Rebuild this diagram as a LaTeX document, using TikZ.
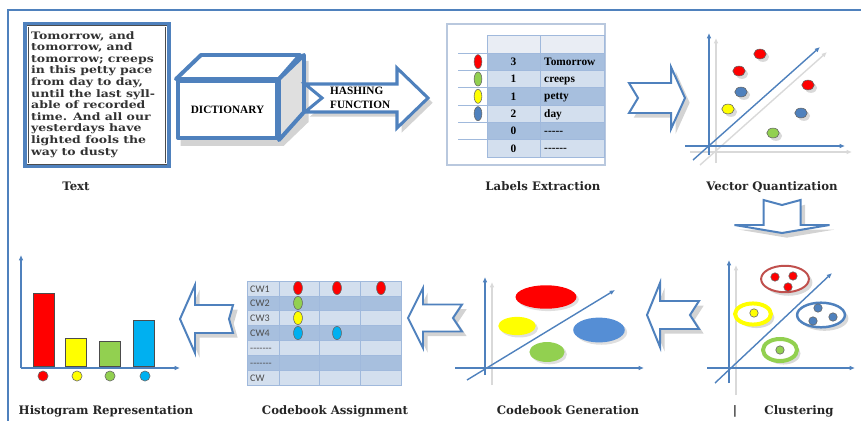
\documentclass[tikz,border=0pt]{standalone}
\usepackage{fontspec}
\setmainfont{Liberation Serif}
\newfontfamily\quotefont[FakeStretch=1.21]{DejaVu Serif}
\newfontfamily\labfont{DejaVu Serif}
\newfontfamily\cwfont{Carlito}
\usepackage{tikz}
\usetikzlibrary{arrows.meta,positioning,shadows}
\definecolor{vqblue}{RGB}{79,129,189}
\definecolor{vqred}{RGB}{255,0,0}
\definecolor{vqyellow}{RGB}{255,255,0}
\definecolor{vqgreen}{RGB}{146,208,80}
\definecolor{vqcyan}{RGB}{0,176,240}
\definecolor{vqsteel}{RGB}{85,142,213}
\definecolor{vqring}{RGB}{192,80,77}
\definecolor{tabdark}{RGB}{167,191,222}
\definecolor{tablight}{RGB}{211,223,238}
\definecolor{tabhead}{RGB}{233,237,244}
\definecolor{tabline}{RGB}{160,185,220}
\definecolor{tabframe}{RGB}{185,200,222}
\tikzset{
  framebar/.style={draw=vqblue, line width=1.7pt},
  txtbox/.style={draw=vqblue, line width=3.4pt, fill=white},
  txtinner/.style={draw=gray!60!black, double=white, double distance=0.9pt, line width=0.45pt},
  quotetext/.style={font=\quotefont\bfseries\fontsize{8.8}{9.9}\selectfont, align=left, inner sep=0pt, text=black!80},
  steplabel/.style={font=\labfont\bfseries\fontsize{10}{12}\selectfont, inner sep=0pt, text=black!85, anchor=base},
  cubeface/.style={draw=vqblue, line width=3.4pt, line join=round},
  cubetext/.style={font=\bfseries\fontsize{9.6}{10}\selectfont, inner sep=0pt},
  hasharrow/.style={draw=vqblue, line width=2.6pt, fill=white, line join=miter,
    drop shadow={shadow xshift=4pt, shadow yshift=-4pt, opacity=.35}},
  hollowarr/.style={draw=vqblue, line width=1.7pt, fill=white, line join=miter,
    drop shadow={shadow xshift=4pt, shadow yshift=-4pt, opacity=.35}},
  tabouter/.style={draw=tabframe, line width=1.3pt},
  tabcell/.style={draw=tabline, line width=0.6pt},
  tabrule/.style={draw=tabline, line width=0.8pt},
  tabtext/.style={font=\bfseries\fontsize{9.7}{10}\selectfont, inner sep=0pt},
  cwtext/.style={font=\cwfont\fontsize{8.6}{10}\selectfont, text=black!70, inner sep=0pt},
  vqaxis/.style={draw=vqblue, line width=1.2pt, -{Latex[length=4.5pt,width=4pt]}},
  vqaxisshade/.style={draw=gray!30, line width=1.2pt, -{Latex[length=4.5pt,width=4pt]}},
  vqdot/.style={draw=black!60, line width=0.5pt,
    drop shadow={shadow xshift=2.5pt, shadow yshift=-2.5pt, opacity=.3}},
  ring/.style={fill=white, drop shadow={shadow xshift=3pt, shadow yshift=-3pt, opacity=.3}},
  blob/.style={drop shadow={shadow xshift=2pt, shadow yshift=-2pt, opacity=.25}},
  histbar/.style={draw=black!70, line width=0.6pt}
}
% tip, angle, length, head length, head half width, shaft half width, notch
\newcommand{\notcharrow}[7]{%
  \draw[hollowarr, shift={(#1)}, rotate=#2]
    (0,0) -- (-#4,-#5) -- (-#4,-#6) -- (-#3,-#6) -- (-#3+#7,0)
    -- (-#3,#6) -- (-#4,#6) -- (-#4,#5) -- cycle;}
\newcommand{\dashrun}[1]{\foreach \k in {1,...,#1}{-}}

\begin{document}
\begin{tikzpicture}[x=0.03cm, y=-0.03cm]
  \useasboundingbox (0,0) rectangle (861,421);
  \draw[framebar] (861,10) -- (8,10) -- (8,421);

  % text
  \node[txtbox, minimum width=4.32cm, minimum height=4.26cm] (txt) at (97,95) {};
  \node[txtinner, minimum width=4.16cm, minimum height=4.13cm] (txtin) at (txt.center) {};
  \node[quotetext, anchor=north west] (quote) at (31,31)
    {Tomorrow, and\\tomorrow, and\\tomorrow; creeps\\in this petty pace\\from day to day,\\until the last syll-\\able of recorded\\time. And all our\\yesterdays have\\lighted fools the\\way to dusty};
  \node[steplabel] (lbltext) at (76,190) {Text};

  % dictionary cube
  \path[drop shadow={shadow xshift=4pt, shadow yshift=-5pt, opacity=.35}]
    (176,140) -- (176,79) -- (201,55) -- (304,55) -- (304,116) -- (279,140) -- cycle;
  \node[cubeface, fill=white, minimum width=2.97cm, minimum height=1.71cm, cubetext] (dict) at (227.5,109.5) {DICTIONARY};
  \draw[cubeface, fill=white] (dict.north west) -- ++(25,-24) -- ++(99,0) -- (dict.north east) -- cycle;
  \draw[cubeface, fill=gray!25] (dict.north east) -- ++(25,-24) -- ++(0,57) -- (dict.south east) -- cycle;

  % hashing
  \draw[hasharrow] (428,98) -- (397,68) -- (397,84) -- (305,84) -- (322,98)
    -- (305,112) -- (397,112) -- (397,128) -- cycle;
  \node[cubetext, anchor=west, align=left, font=\bfseries\fontsize{9.6}{11.9}\selectfont] (hash) at (330,98) {HASHING\\FUNCTION};

  % labels extraction
  \draw[tabouter] (447,24) rectangle (605,165);
  \draw[tabcell, fill=tabhead] (487,35) rectangle (540,53);
  \draw[tabcell, fill=tabhead] (540,35) rectangle (604,53);
  \foreach \r/\n/\w/\c in {1/3/Tomorrow/tabdark, 2/1/creeps/tablight, 3/1/petty/tabdark,
                          4/2/day/tablight, 5/0/\dashrun{5}/tabdark, 6/0/\dashrun{6}/tablight} {
    \pgfmathsetmacro\yt{53+(\r-1)*17.33}
    \draw[tabcell, fill=\c] (487,\yt) rectangle (540,{\yt+17.33});
    \draw[tabcell, fill=\c] (540,\yt) rectangle (604,{\yt+17.33});
    \draw[tabrule] (458,\yt) -- (487,\yt);
    \node[tabtext] at (513.5,{\yt+8.7}) {\n};
    \node[tabtext, anchor=base west] at (544,{\yt+12.3}) {\w};
  }
  \foreach \r/\c in {1/vqred, 2/vqgreen, 3/vqyellow, 4/vqblue}
    \draw[draw=black!60, line width=0.5pt, fill=\c] (478,{53+(\r-0.5)*17.33}) ellipse[x radius=3.3pt, y radius=6pt];
  \node[steplabel] (lbllab) at (543,190) {Labels Extraction};

  \notcharrow{685,98}{0}{56}{14}{31}{15}{9}

  % vector quantization
  \draw[vqaxisshade] (716,163) -- (716,38);
  \draw[vqaxisshade] (690,152) -- (852,152);
  \draw[vqaxisshade] (700,165) -- (827,52);
  \draw[vqaxis] (709,155) -- (709,33);
  \draw[vqaxis] (685,146) -- (845,146);
  \draw[vqaxis] (693,160) -- (820,47);
  \foreach \x/\y/\c in {760/54/vqred, 739/71/vqred, 808/85/vqred, 741/92/vqblue,
                        728/109/vqyellow, 801/113/vqblue, 773/133/vqgreen}
    \draw[vqdot, fill=\c] (\x,\y) ellipse[x radius=5.3pt, y radius=4.2pt];
  \node[steplabel] (lblvq) at (772,190) {Vector Quantization};

  \notcharrow{782,233}{-90}{33}{8}{47.5}{18.5}{5}

  % clustering
  \draw[vqaxisshade] (736,395) -- (736,265);
  \draw[vqaxis] (729,383) -- (729,260);
  \draw[vqaxis] (707,368) -- (855,368);
  \draw[vqaxis] (715,383) -- (832,273);
  \draw[ring, draw=vqring, line width=1.7pt] (785,279) ellipse[x radius=20.4pt, y radius=11.3pt];
  \draw[ring, draw=vqyellow, line width=3.4pt] (753,314) ellipse[x radius=15.3pt, y radius=9pt];
  \draw[ring, draw=vqblue, line width=2.1pt] (821,315) ellipse[x radius=20.4pt, y radius=10.5pt];
  \draw[ring, draw=vqgreen, line width=3.4pt] (780,350) ellipse[x radius=14.5pt, y radius=9.4pt];
  \foreach \x/\y/\c in {775/277/vqred, 793/276/vqred, 788/287/vqred, 754/313/vqyellow,
                        818/308/vqblue, 813/321/vqblue, 833/317/vqblue, 780/350/vqgreen}
    \draw[draw=black!60, line width=0.5pt, fill=\c] (\x,\y) circle[radius=3.6pt];
  \node[steplabel] (lblbar) at (735,414) {|};
  \node[steplabel] (lblclu) at (799,414) {Clustering};

  \notcharrow{647,315}{180}{52}{13}{32}{14}{9}

  % codebook generation
  \draw[vqaxisshade] (492,385) -- (492,282);
  \draw[vqaxis] (485,375) -- (485,277);
  \draw[vqaxis] (455,368) -- (644,368);
  \draw[vqaxis] (467,380) -- (615,290);
  \fill[blob, vqred] (546,297) ellipse[x radius=26pt, y radius=10pt];
  \fill[blob, vqyellow] (517,326) ellipse[x radius=16pt, y radius=7.8pt];
  \fill[blob, vqsteel] (599,330) ellipse[x radius=22pt, y radius=10.6pt];
  \fill[blob, vqgreen] (547,352) ellipse[x radius=15pt, y radius=8.5pt];
  \node[steplabel] (lblgen) at (568,414) {Codebook Generation};

  \notcharrow{408,318}{180}{54}{15}{30}{13.5}{9}

  % codebook assignment
  \foreach \r/\t/\c in {1/CW1/tablight, 2/CW2/tabdark, 3/CW3/tablight, 4/CW4/tabdark,
                        5/\dashrun{7}/tablight, 6/\dashrun{7}/tabdark, 7/CW/tablight} {
    \pgfmathsetmacro\yt{281+(\r-1)*14.857}
    \foreach \xa/\xb in {247/279, 279/319, 319/360, 360/401}
      \draw[tabcell, fill=\c] (\xa,\yt) rectangle (\xb,{\yt+14.857});
    \node[cwtext, anchor=base west] at (250,{\yt+11}) {\t};
  }
  \foreach \x/\y/\c in {298/288/vqred, 337/288/vqred, 381/288/vqred, 298/303/vqgreen,
                        298/318/vqyellow, 298/333/vqcyan, 337/333/vqcyan}
    \draw[draw=black!60, line width=0.5pt, fill=\c] (\x,\y) ellipse[x radius=3.8pt, y radius=5.6pt];
  \node[steplabel] (lblasg) at (335,414) {Codebook Assignment};

  \notcharrow{180,319}{180}{53}{15}{34}{14}{4}

  % histogram
  \draw[vqaxis] (21,368) -- (21,255);
  \draw[vqaxis] (21,368) -- (180,368);
  \foreach \xa/\top/\c in {33/293/vqred, 65/338/vqyellow, 99/341/vqgreen, 133/320/vqcyan}
    \draw[histbar, fill=\c] (\xa,366) rectangle ({\xa+21},\top);
  \foreach \x/\c in {43/vqred, 77/vqyellow, 110/vqgreen, 145/vqcyan}
    \draw[draw=black!60, line width=0.5pt, fill=\c] (\x,376) circle[radius=4.3pt];
  \node[steplabel] (lblhist) at (106,414) {Histogram Representation};
\end{tikzpicture}
\end{document}
